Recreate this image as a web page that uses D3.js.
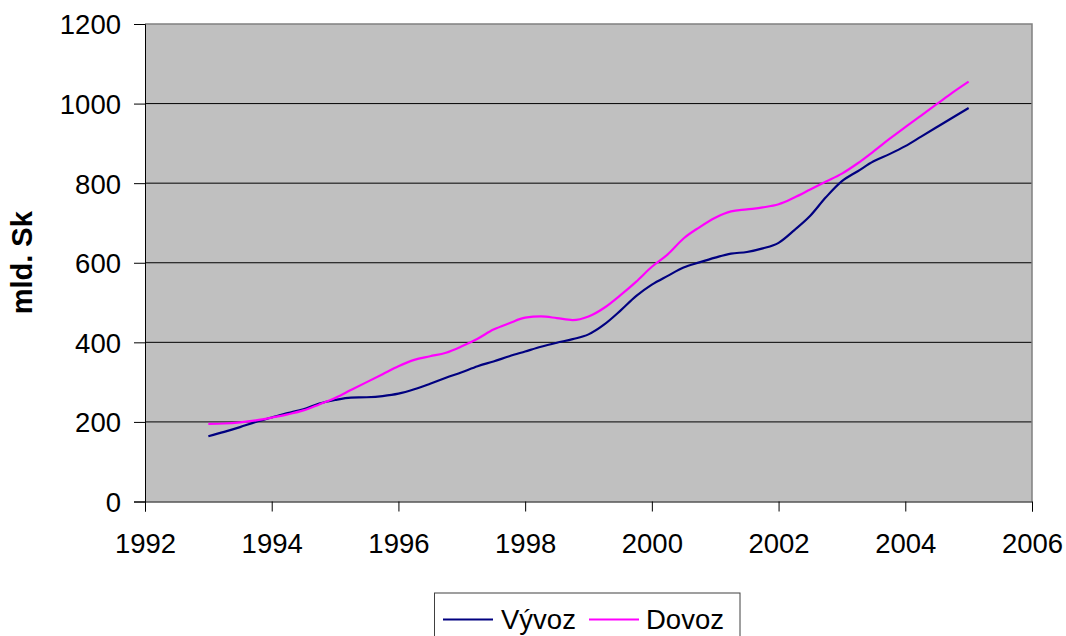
<!DOCTYPE html>
<html>
<head>
<meta charset="utf-8">
<script src="https://cdn.jsdelivr.net/npm/d3@7"></script>
<style>
html,body{margin:0;padding:0;background:#fff;}
svg{display:block;font-family:"Liberation Sans",Arial,sans-serif;}
</style>
</head>
<body>
<svg id="chart" width="1066" height="636"></svg>
<script>
// Quarterly time points (years)
const years = [1993.00,1993.25,1993.50,1993.75,1994.00,1994.25,1994.50,1994.75,
  1995.00,1995.25,1995.50,1995.75,1996.00,1996.25,1996.50,1996.75,
  1997.00,1997.25,1997.50,1997.75,1998.00,1998.25,1998.50,1998.75,
  1999.00,1999.25,1999.50,1999.75,2000.00,2000.25,2000.50,2000.75,
  2001.00,2001.25,2001.50,2001.75,2002.00,2002.25,2002.50,2002.75,
  2003.00,2003.25,2003.50,2003.75,2004.00,2004.25,2004.50,2004.75,2005.00];
const vyvoz = [164,175,187,200,211,222,232,246,
  255,261,262,265,271,282,296,311,
  325,340,352,365,377,389,399,408,
  420,445,479,516,545,567,588,601,
  613,623,627,636,650,682,718,765,
  805,830,855,873,893,917,941,965,989];
const dovoz = [195,196,199,204,211,219,229,244,
  260,280,300,320,340,356,365,374,
  390,409,432,448,462,465,461,456,
  465,487,518,552,590,621,661,689,
  713,729,734,739,747,764,784,804,
  824,850,880,911,941,970,999,1028,1055];
const seriesNames = ["Vývoz", "Dovoz"];
const seriesColors = ["#000080", "#FF00FF"];
const xTicks = [1992,1994,1996,1998,2000,2002,2004,2006];
const yTicks = [0,200,400,600,800,1000,1200];
const yLabel = "mld. Sk";

const svg = d3.select("#chart");
const L = 145, R = 1032, T = 24, B = 501.5;
const x = d3.scaleLinear().domain([1992, 2006]).range([L, R]);
const y = d3.scaleLinear().domain([0, 1200]).range([B, T]);

// plot background
svg.append("rect").attr("x", L).attr("y", T).attr("width", R - L).attr("height", B - T)
  .attr("fill", "#C0C0C0");

// gridlines
svg.append("g").selectAll("line").data(yTicks.filter(d => d > 0 && d < 1200)).join("line")
  .attr("x1", L).attr("x2", R).attr("y1", d => y(d)).attr("y2", d => y(d))
  .attr("stroke", "#000").attr("stroke-width", 1);

// top & right border
svg.append("path").attr("d", `M${L},${T}H${R}V${B}`).attr("fill", "none")
  .attr("stroke", "#808080").attr("stroke-width", 1.5);

// axes
const yAxis = d3.axisLeft(y).tickValues(yTicks).tickSize(11).tickPadding(13).tickFormat(d3.format("d"));
const gy = svg.append("g").attr("transform", `translate(${L},0)`).call(yAxis);
const xAxis = d3.axisBottom(x).tickValues(xTicks).tickSize(10).tickPadding(22).tickFormat(d3.format("d"));
const gx = svg.append("g").attr("transform", `translate(0,${B})`).call(xAxis);
[gx, gy].forEach(g => {
  g.select(".domain").attr("stroke", "#000").attr("stroke-width", 1);
  g.selectAll(".tick line").attr("stroke", "#000").attr("stroke-width", 1);
  g.selectAll("text").attr("fill", "#000").attr("font-size", 27.5)
    .attr("font-family", "'Liberation Sans', Arial, sans-serif");
});
gy.selectAll("text").attr("dy", "0.36em");
gx.selectAll("text").attr("dy", "0.71em");

// y label
svg.append("text").attr("transform", `translate(32,${(T + B) / 2}) rotate(-90)`)
  .attr("text-anchor", "middle").attr("font-size", 29).attr("font-weight", "bold")
  .text(yLabel);

// lines
const seriesData = [vyvoz, dovoz];
const line = d3.line().x((d, i) => x(years[i])).y(d => y(d)).curve(d3.curveMonotoneX);
seriesData.forEach((s, k) => {
  svg.append("path").datum(s).attr("d", line).attr("fill", "none")
    .attr("stroke", seriesColors[k]).attr("stroke-width", 2.2)
    .attr("stroke-linejoin", "round");
});

// legend
const lg = svg.append("g");
lg.append("rect").attr("x", 434.5).attr("y", 593).attr("width", 305.5).attr("height", 50)
  .attr("fill", "#fff").attr("stroke", "#404040").attr("stroke-width", 1);
const legendItems = [
  {name: seriesNames[0], color: seriesColors[0], x0: 443, x1: 493, tx: 501},
  {name: seriesNames[1], color: seriesColors[1], x0: 589, x1: 639, tx: 646}
];
legendItems.forEach(it => {
  lg.append("line").attr("x1", it.x0).attr("x2", it.x1).attr("y1", 619.5).attr("y2", 619.5)
    .attr("stroke", it.color).attr("stroke-width", 2);
  lg.append("text").attr("x", it.tx).attr("y", 629).attr("font-size", 27.5).attr("fill", "#000")
    .text(it.name);
});
</script>
</body>
</html>
